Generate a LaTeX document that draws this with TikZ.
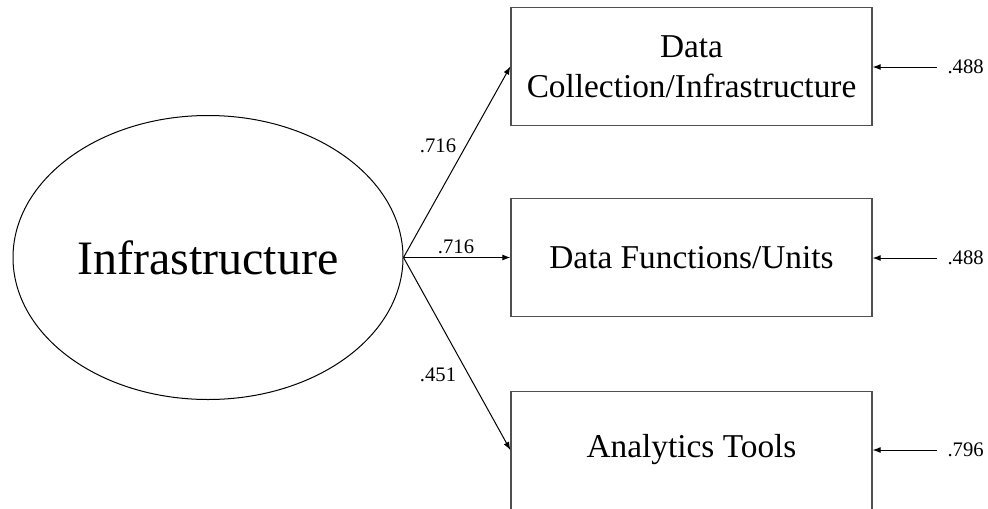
\documentclass[tikz,border=0pt]{standalone}
\usepackage{fontspec}
\setmainfont{Liberation Serif}
\usetikzlibrary{shapes.geometric,arrows.meta}

\tikzset{every picture/.style={line width=0.75pt}}
\tikzset{
  latent/.style={draw, ellipse, inner sep=0pt, minimum width=292.5pt, minimum height=213pt, font=\fontsize{36}{40}\selectfont},
  indicator/.style={draw={rgb, 255:red, 80; green, 80; blue, 80}, line width=1pt, rectangle, align=center, minimum width=270.75pt, minimum height=88.5pt, font=\fontsize{25}{30}\selectfont},
  loading/.style={inner sep=0.75pt, font=\fontsize{15.5}{18}\selectfont},
  path/.style={-{Latex[length=6pt,width=4.5pt]}, line width=0.75pt}
}

\begin{document}
\begin{tikzpicture}[x=0.75pt,y=0.75pt,yscale=-1,xscale=1]
    \useasboundingbox (0,0) rectangle (988,508);

    % Latent variable
    \node (infra) [latent] at (208,257.5) {Infrastructure};

    % Indicators
    \node (dc) [indicator] at (691.5,66.5) {Data\\Collection/Infrastructure};
    \node (df) [indicator] at (691.5,257.5) {Data Functions/Units};
    \node (at) [indicator, minimum height=94pt, anchor=north] at (691.5,391) {};
    \node (att) [indicator, draw=none] at (691.5,450) {Analytics Tools};

    % Loadings
    \draw [path] (infra.east) -- (dc.west);
    \draw [path] (infra.east) -- (df.west);
    \draw [path] (infra.east) -- (at.west |- att.west);

    % Text Node
    \node (ldc) [loading] at (438,146) {.716};
    % Text Node
    \node (ldf) [loading] at (456,247) {.716};
    % Text Node
    \node (lat) [loading] at (438,375) {.451};

    % Error terms
    \node (edc) [loading, anchor=west] at (946,67) {.488};
    \node (edf) [loading, anchor=west] at (946,258) {.488};
    \node (eat) [loading, anchor=west] at (946,450) {.796};
    \draw [path] (edc.west) ++(-9,0) -- (dc.east |- edc.west);
    \draw [path] (edf.west) ++(-9,0) -- (df.east |- edf.west);
    \draw [path] (eat.west) ++(-9,0) -- (at.east |- eat.west);

\end{tikzpicture}
\end{document}
